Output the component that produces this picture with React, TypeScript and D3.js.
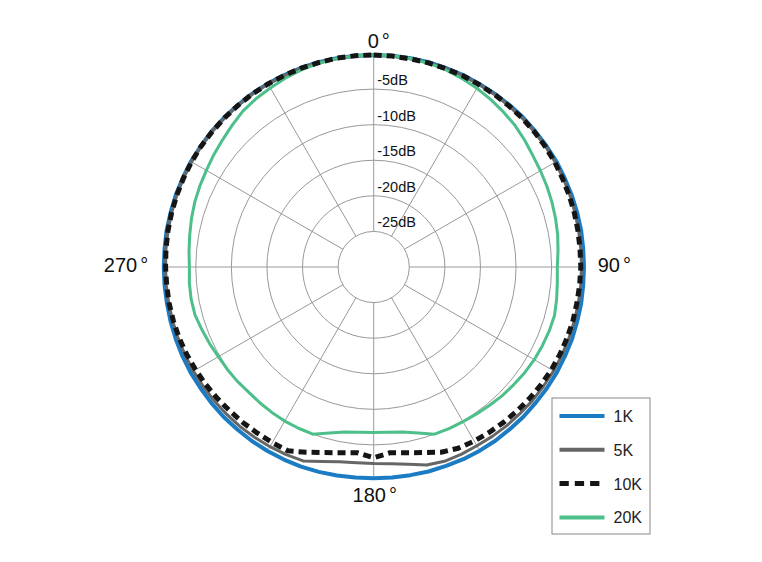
import React from 'react';
import * as d3 from 'd3';

// angle of each measurement, degrees clockwise from the top
const angles = [
  0, 5, 10, 15, 20, 25, 30, 35, 40, 45, 50, 55,
  60, 65, 70, 75, 80, 85, 90, 95, 100, 105, 110, 115,
  120, 125, 130, 135, 140, 145, 150, 155, 160, 165, 170, 175,
  180, 185, 190, 195, 200, 205, 210, 215, 220, 225, 230, 235,
  240, 245, 250, 255, 260, 265, 270, 275, 280, 285, 290, 295,
  300, 305, 310, 315, 320, 325, 330, 335, 340, 345, 350, 355,
];

const db1K = [
  -0.2, -0.2, -0.2, -0.2, -0.25, -0.25, -0.3, -0.3, -0.3, -0.3, -0.35, -0.35,
  -0.35, -0.4, -0.4, -0.4, -0.4, -0.45, -0.45, -0.45, -0.4, -0.4, -0.35, -0.35,
  -0.3, -0.3, -0.3, -0.25, -0.25, -0.2, -0.2, -0.2, -0.25, -0.25, -0.3, -0.3,
  -0.3, -0.3, -0.25, -0.2, -0.15, -0.15, -0.15, -0.15, -0.2, -0.2, -0.25, -0.3,
  -0.3, -0.35, -0.4, -0.45, -0.5, -0.5, -0.5, -0.5, -0.45, -0.45, -0.4, -0.4,
  -0.35, -0.35, -0.3, -0.3, -0.3, -0.25, -0.25, -0.25, -0.2, -0.2, -0.2, -0.2,
];

const db5K = [
  -0.25, -0.25, -0.3, -0.3, -0.35, -0.35, -0.4, -0.4, -0.45, -0.45, -0.5, -0.5,
  -0.55, -0.6, -0.65, -0.7, -0.75, -0.8, -0.8, -0.8, -0.8, -0.8, -0.8, -0.8,
  -0.8, -0.85, -0.85, -0.9, -0.9, -0.95, -1.0, -0.95, -0.95, -1.2, -1.85, -2.25,
  -2.4, -2.4, -2.2, -1.7, -1.0, -0.9, -0.85, -0.8, -0.75, -0.75, -0.75, -0.75,
  -0.75, -0.75, -0.75, -0.75, -0.75, -0.75, -0.75, -0.7, -0.65, -0.6, -0.55, -0.5,
  -0.45, -0.4, -0.4, -0.35, -0.35, -0.3, -0.3, -0.3, -0.25, -0.25, -0.25, -0.25,
];

const db10K = [
  -0.2, -0.25, -0.3, -0.3, -0.35, -0.35, -0.4, -0.4, -0.45, -0.45, -0.5, -0.55,
  -0.6, -0.7, -0.75, -0.8, -0.85, -0.9, -0.9, -0.95, -1.0, -1.0, -1.05, -1.1,
  -1.15, -1.25, -1.35, -1.45, -1.55, -1.65, -1.75, -1.9, -2.3, -3.0, -3.5, -3.8,
  -3.2, -3.8, -3.5, -3.0, -2.3, -1.5, -1.5, -1.5, -1.45, -1.4, -1.3, -1.2,
  -1.1, -1.0, -0.9, -0.85, -0.8, -0.8, -0.75, -0.7, -0.65, -0.6, -0.55, -0.5,
  -0.45, -0.4, -0.4, -0.35, -0.35, -0.3, -0.3, -0.3, -0.25, -0.25, -0.2, -0.2,
];

const db20K = [
  -0.2, -0.2, -0.25, -0.35, -0.5, -0.75, -1.0, -1.3, -1.6, -1.9, -2.3, -2.7,
  -2.95, -3.15, -3.35, -3.55, -3.75, -4.0, -4.2, -4.1, -3.9, -3.7, -3.75, -3.85,
  -3.95, -4.1, -4.3, -4.45, -4.65, -4.8, -4.9, -4.95, -5.0, -5.85, -6.45, -6.7,
  -6.75, -6.7, -6.45, -5.85, -5.0, -5.0, -5.0, -5.05, -5.1, -5.15, -5.0, -4.9,
  -4.8, -4.55, -4.3, -4.0, -3.95, -4.0, -4.1, -3.95, -3.75, -3.5, -3.25, -3.05,
  -2.85, -2.55, -2.25, -1.85, -1.4, -1.15, -0.95, -0.7, -0.5, -0.35, -0.25, -0.2,
];

const ringLevels = [-5, -10, -15, -20, -25];
const ringLabels = ['-5dB', '-10dB', '-15dB', '-20dB', '-25dB'];
const spokeAngles = [0, 30, 60, 90, 120, 150, 180, 210, 240, 270, 300, 330];
const legendNames = ['1K', '5K', '10K', '20K'];

const series = [
  { name: '1K', values: db1K, color: '#1b7cc4', width: 4, dash: '' },
  { name: '5K', values: db5K, color: '#666666', width: 3, dash: '' },
  { name: '20K', values: db20K, color: '#4dbf8b', width: 3, dash: '' },
  { name: '10K', values: db10K, color: '#151515', width: 5, dash: '8,5' },
];

const cx = 373.7;
const cy = 267;

const App: React.FC = () => {
  const r = d3.scaleLinear().domain([-30, 0]).range([0, 213.5]);
  const rad = (a: number) => (a * Math.PI) / 180;

  const line = d3
    .lineRadial<number>()
    .angle((_, i) => rad(angles[i]))
    .radius((d) => r(d))
    .curve(d3.curveLinearClosed);

  const font = '"Liberation Sans", Arial, sans-serif';
  const styleOf = (n: string) => series.find((s) => s.name === n)!;

  return (
    <svg
      width={762}
      height={562}
      style={{ position: 'absolute', left: 0, top: 0, background: '#fff' }}
      fontFamily={font}
    >
      <g transform={`translate(${cx},${cy})`}>
        {/* grid */}
        {ringLevels.map((lv) => (
          <circle key={lv} r={r(lv)} fill="none" stroke="#999" strokeWidth={1} />
        ))}
        {spokeAngles.map((a) => (
          <line
            key={a}
            x1={r(-25) * Math.sin(rad(a))}
            y1={-r(-25) * Math.cos(rad(a))}
            x2={r(-0.5) * Math.sin(rad(a))}
            y2={-r(-0.5) * Math.cos(rad(a))}
            stroke="#999"
            strokeWidth={1}
          />
        ))}
        {ringLevels.map((lv, i) => (
          <text key={lv} x={3.5} y={-r(lv) - 4} fontSize={14.5} fill="#111">
            {ringLabels[i]}
          </text>
        ))}

        {/* curves */}
        {series.map((s) => (
          <path
            key={s.name}
            d={line(s.values) || ''}
            fill="none"
            stroke={s.color}
            strokeWidth={s.width}
            strokeDasharray={s.dash || undefined}
            strokeLinejoin="round"
          />
        ))}

        {/* angle labels */}
        <text x={5} y={-218.7} fontSize={20} textAnchor="middle" fill="#111">
          0<tspan dx={3}>°</tspan>
        </text>
        <text x={224} y={4.5} fontSize={20} textAnchor="start" fill="#111">
          90<tspan dx={3}>°</tspan>
        </text>
        <text x={1} y={234.7} fontSize={20} textAnchor="middle" fill="#111">
          180<tspan dx={3}>°</tspan>
        </text>
        <text x={-225.5} y={4.5} fontSize={20} textAnchor="end" fill="#111">
          270<tspan dx={3}>°</tspan>
        </text>
      </g>

      {/* legend */}
      <g transform="translate(552,398)">
        <rect x={0} y={0} width={98} height={136} fill="#fff" stroke="#888" strokeWidth={1} />
        {legendNames.map((n, i) => {
          const s = styleOf(n);
          const y = 18 + i * 33.8;
          return (
            <g key={n}>
              <line
                x1={7.5}
                x2={52.5}
                y1={y}
                y2={y}
                stroke={s.color}
                strokeWidth={s.name === '10K' ? 5 : 4}
                strokeDasharray={s.name === '10K' ? '9.3,6' : undefined}
              />
              <text x={61.5} y={y + 6} fontSize={16} fill="#222">
                {n}
              </text>
            </g>
          );
        })}
      </g>
    </svg>
  );
};

export default App;
